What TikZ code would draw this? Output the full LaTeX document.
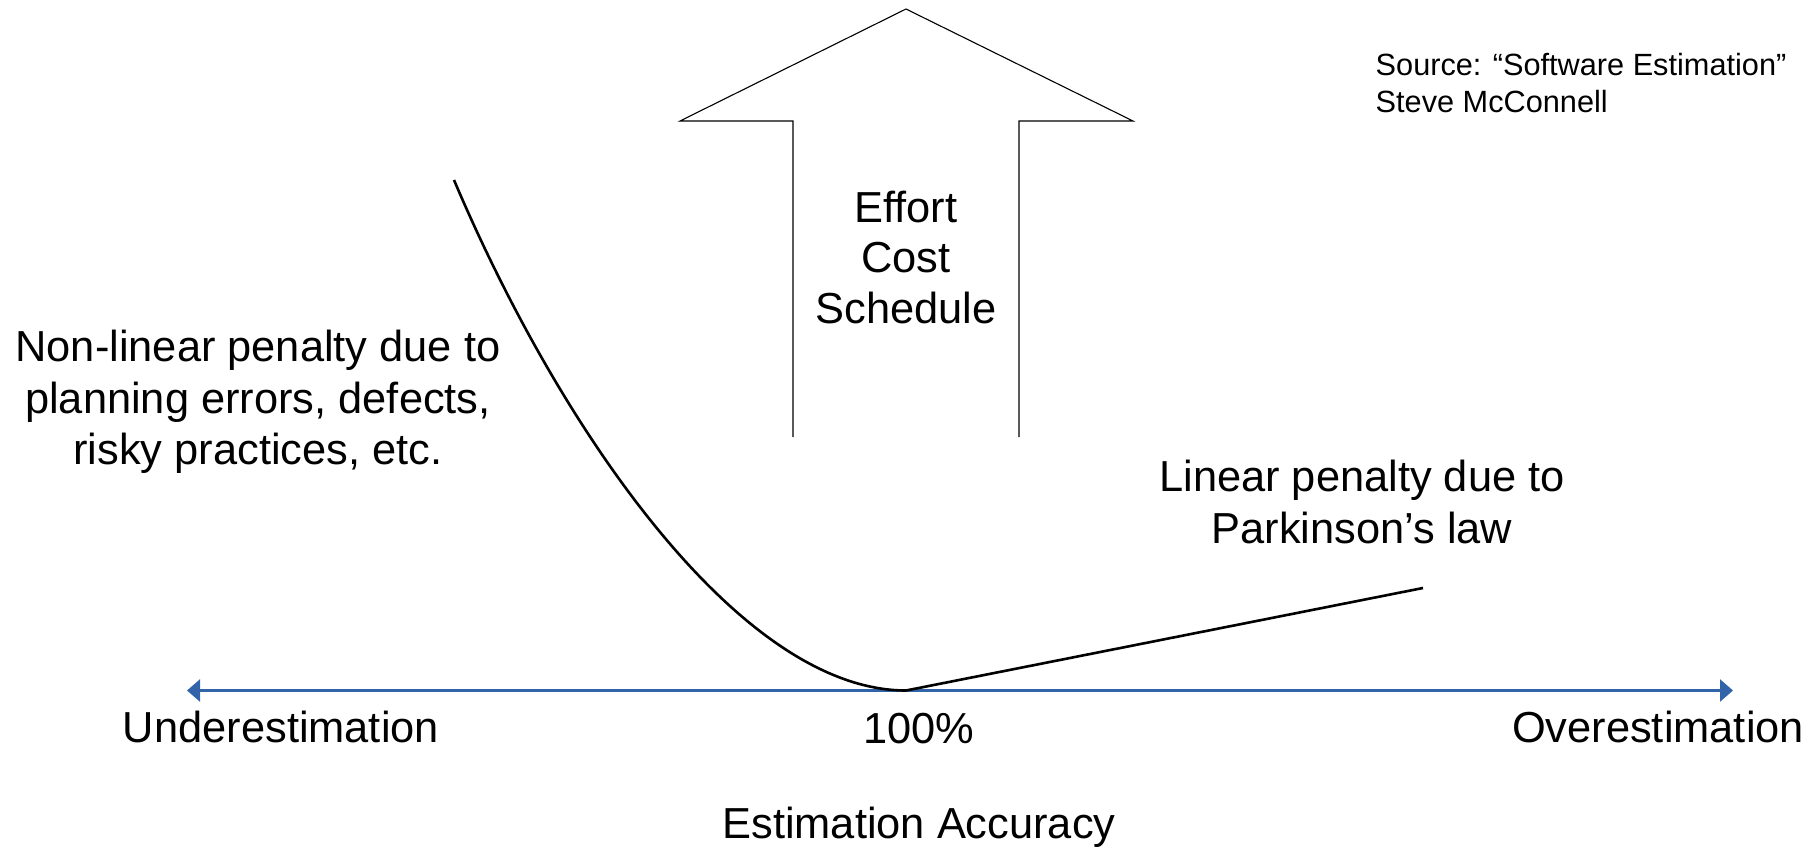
\documentclass[tikz,border=0pt]{standalone}
\usepackage{fontspec}
\setmainfont{Liberation Sans}
\usetikzlibrary{arrows.meta}
\definecolor{axisblue}{RGB}{50,100,170}
\begin{document}
\begin{tikzpicture}[x=1pt,y=-1pt,
  bigtext/.style={font=\fontsize{43.4}{51.5}\selectfont, inner sep=0pt, align=center, anchor=base},
  smalltext/.style={font=\fontsize{30.7}{37}\selectfont, inner sep=0pt, align=left, anchor=base west},
  penalty/.style={line width=2.6pt, black, line join=round},
  axisline/.style={line width=2.4pt, axisblue, {Triangle[length=13pt,width=22pt]}-{Triangle[length=13pt,width=22pt]}},
  bigarrow/.style={line width=1.1pt, black, line join=miter}
]
% page frame
\useasboundingbox (0,0) rectangle (1820,848);

% hollow up-arrow (open at the bottom)
\coordinate (shaftL) at (793,437);
\coordinate (shaftR) at (1019,437);
\draw[bigarrow] (shaftL) -- (793,121) -- (680,121) -- (906,9) -- (1133,121) -- (1019,121) -- (shaftR);
\node[bigtext] (effort) at (906,222.5) {Effort};
\node[bigtext] (cost) at (906,272) {Cost};
\node[bigtext] (schedule) at (906,323) {Schedule};

% accuracy axis
\coordinate (axL) at (187,690.5);
\coordinate (axR) at (1733,690.5);
\draw[axisline] (axL) -- (axR);

% penalty curves
\coordinate (top) at (454,180);
\coordinate (best) at (906,690.5);
\coordinate (over) at (1423,588);
\draw[penalty] (top) .. controls (560,430) and (740,690.5) .. (best) -- (over);

% labels
\node[bigtext] (nonlin1) at (258,361.5) {Non-linear penalty due to};
\node[bigtext] (nonlin2) at (258,413.5) {planning errors, defects,};
\node[bigtext] (nonlin3) at (258,464.5) {risky practices, etc.};
\node[bigtext] (lin1) at (1362,491.5) {Linear penalty due to};
\node[bigtext] (lin2) at (1362,543.5) {Parkinson’s law};

\node[bigtext] (under) at (281,742) {Underestimation};
\node[bigtext] (hundred) at (918.5,743) {100\%};
\node[bigtext] (overl) at (1658,742) {Overestimation};
\node[bigtext] (xlabel) at (919,838) {Estimation Accuracy};

\node[smalltext] (src1) at (1375.5,76) {Source: “Software Estimation”};
\node[smalltext] (src2) at (1375.5,113) {Steve McConnell};
\end{tikzpicture}
\end{document}
